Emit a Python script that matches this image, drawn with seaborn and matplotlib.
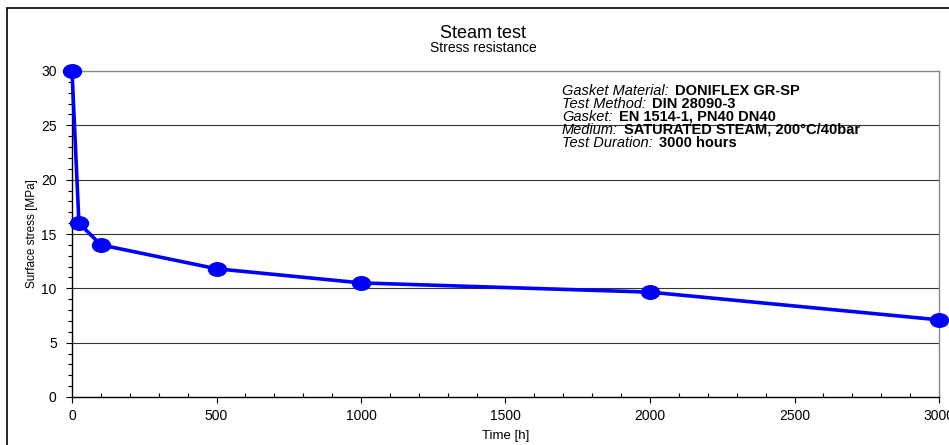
import matplotlib
matplotlib.use("Agg")
import matplotlib.pyplot as plt
from matplotlib.patches import Rectangle
from matplotlib.ticker import MultipleLocator
from matplotlib.path import Path
from matplotlib.transforms import Affine2D
import seaborn as sns
import pandas as pd

time_h = [0, 24, 100, 500, 1000, 2000, 3000]
stress_mpa = [30, 16, 14, 11.8, 10.5, 9.65, 7.1]
x_ticks = [0, 500, 1000, 1500, 2000, 2500, 3000]
y_ticks = [0, 5, 10, 15, 20, 25, 30]
info_labels = ["Gasket Material:", "Test Method:", "Gasket:", "Medium:", "Test Duration:"]
info_values = ["DONIFLEX GR-SP", "DIN 28090-3", "EN 1514-1, PN40 DN40",
               "SATURATED STEAM, 200°C/40bar", "3000 hours"]

sns.set_theme(style="white")
plt.rcParams['font.family'] = ['Liberation Sans', 'DejaVu Sans']
plt.rcParams['text.color'] = 'black'
plt.rcParams['axes.labelcolor'] = 'black'
plt.rcParams['xtick.color'] = 'black'
plt.rcParams['ytick.color'] = 'black'

W, H = 949, 445
fig = plt.figure(figsize=(W / 100, H / 100), dpi=100)
ax = fig.add_axes([72 / W, 1 - 397 / H, (939 - 72) / W, (397 - 71) / H])

ellipse = Path.unit_circle().transformed(Affine2D().scale(1.3, 1.0))

df = pd.DataFrame({"Time [h]": time_h, "Stress": stress_mpa})
sns.lineplot(data=df, x="Time [h]", y="Stress", ax=ax, color="#0000ff",
             linewidth=2.6, marker=ellipse, markersize=14, markeredgewidth=0,
             clip_on=False, zorder=5)

ax.set_xlim(0, 3000)
ax.set_ylim(0, 30)
ax.set_xticks(x_ticks)
ax.set_yticks(y_ticks)
ax.set_xticklabels([str(v) for v in x_ticks], fontsize=10)
ax.set_yticklabels([str(v) for v in y_ticks], fontsize=10)
ax.xaxis.set_minor_locator(MultipleLocator(100))
ax.yaxis.set_minor_locator(MultipleLocator(1))
ax.tick_params(axis="both", which="major", direction="out", length=4, width=0.8,
               color="black", labelcolor="black")
ax.tick_params(axis="x", which="major", pad=5)
ax.tick_params(axis="y", which="major", pad=7)
ax.tick_params(axis="x", which="minor", direction="in", length=3, width=0.8, color="black")
ax.tick_params(axis="y", which="minor", direction="out", length=3, width=0.8, color="black")
ax.tick_params(bottom=True, left=True, which="both")

ax.set_xlabel("Time [h]", fontsize=9.5, labelpad=5)
ax.set_ylabel("Surface stress [MPa]", fontsize=8.5, labelpad=2)

for v in y_ticks[1:-1]:
    ax.axhline(v, color="#333333", linewidth=0.8, zorder=1)

for s in ["left", "bottom"]:
    ax.spines[s].set_color("black")
    ax.spines[s].set_linewidth(1.0)
for s in ["top", "right"]:
    ax.spines[s].set_color("#888888")
    ax.spines[s].set_linewidth(1.0)

fig.text(483 / W, 1 - 33 / H, "Steam test", ha="center", va="center", fontsize=13)
fig.text(483 / W, 1 - 48 / H, "Stress resistance", ha="center", va="center", fontsize=10)

# info block
y0 = 91
fig.canvas.draw()
for i, (lab, val) in enumerate(zip(info_labels, info_values)):
    yy = 1 - (y0 + i * 12.9) / H
    t = fig.text(562 / W, yy, lab, ha="left", va="center", fontsize=10.5, style="italic")
    fig.canvas.draw()
    bb = t.get_window_extent()
    fig.text((bb.x1 + 6) / W, yy, val, ha="left", va="center", fontsize=10.5, weight="bold")

fig.patches.append(Rectangle((7 / W, -0.1), 1.2, 1 - 8 / H + 0.1, transform=fig.transFigure,
                             fill=False, edgecolor="black", linewidth=1.2, figure=fig))

fig.savefig("out.png", dpi=100)
